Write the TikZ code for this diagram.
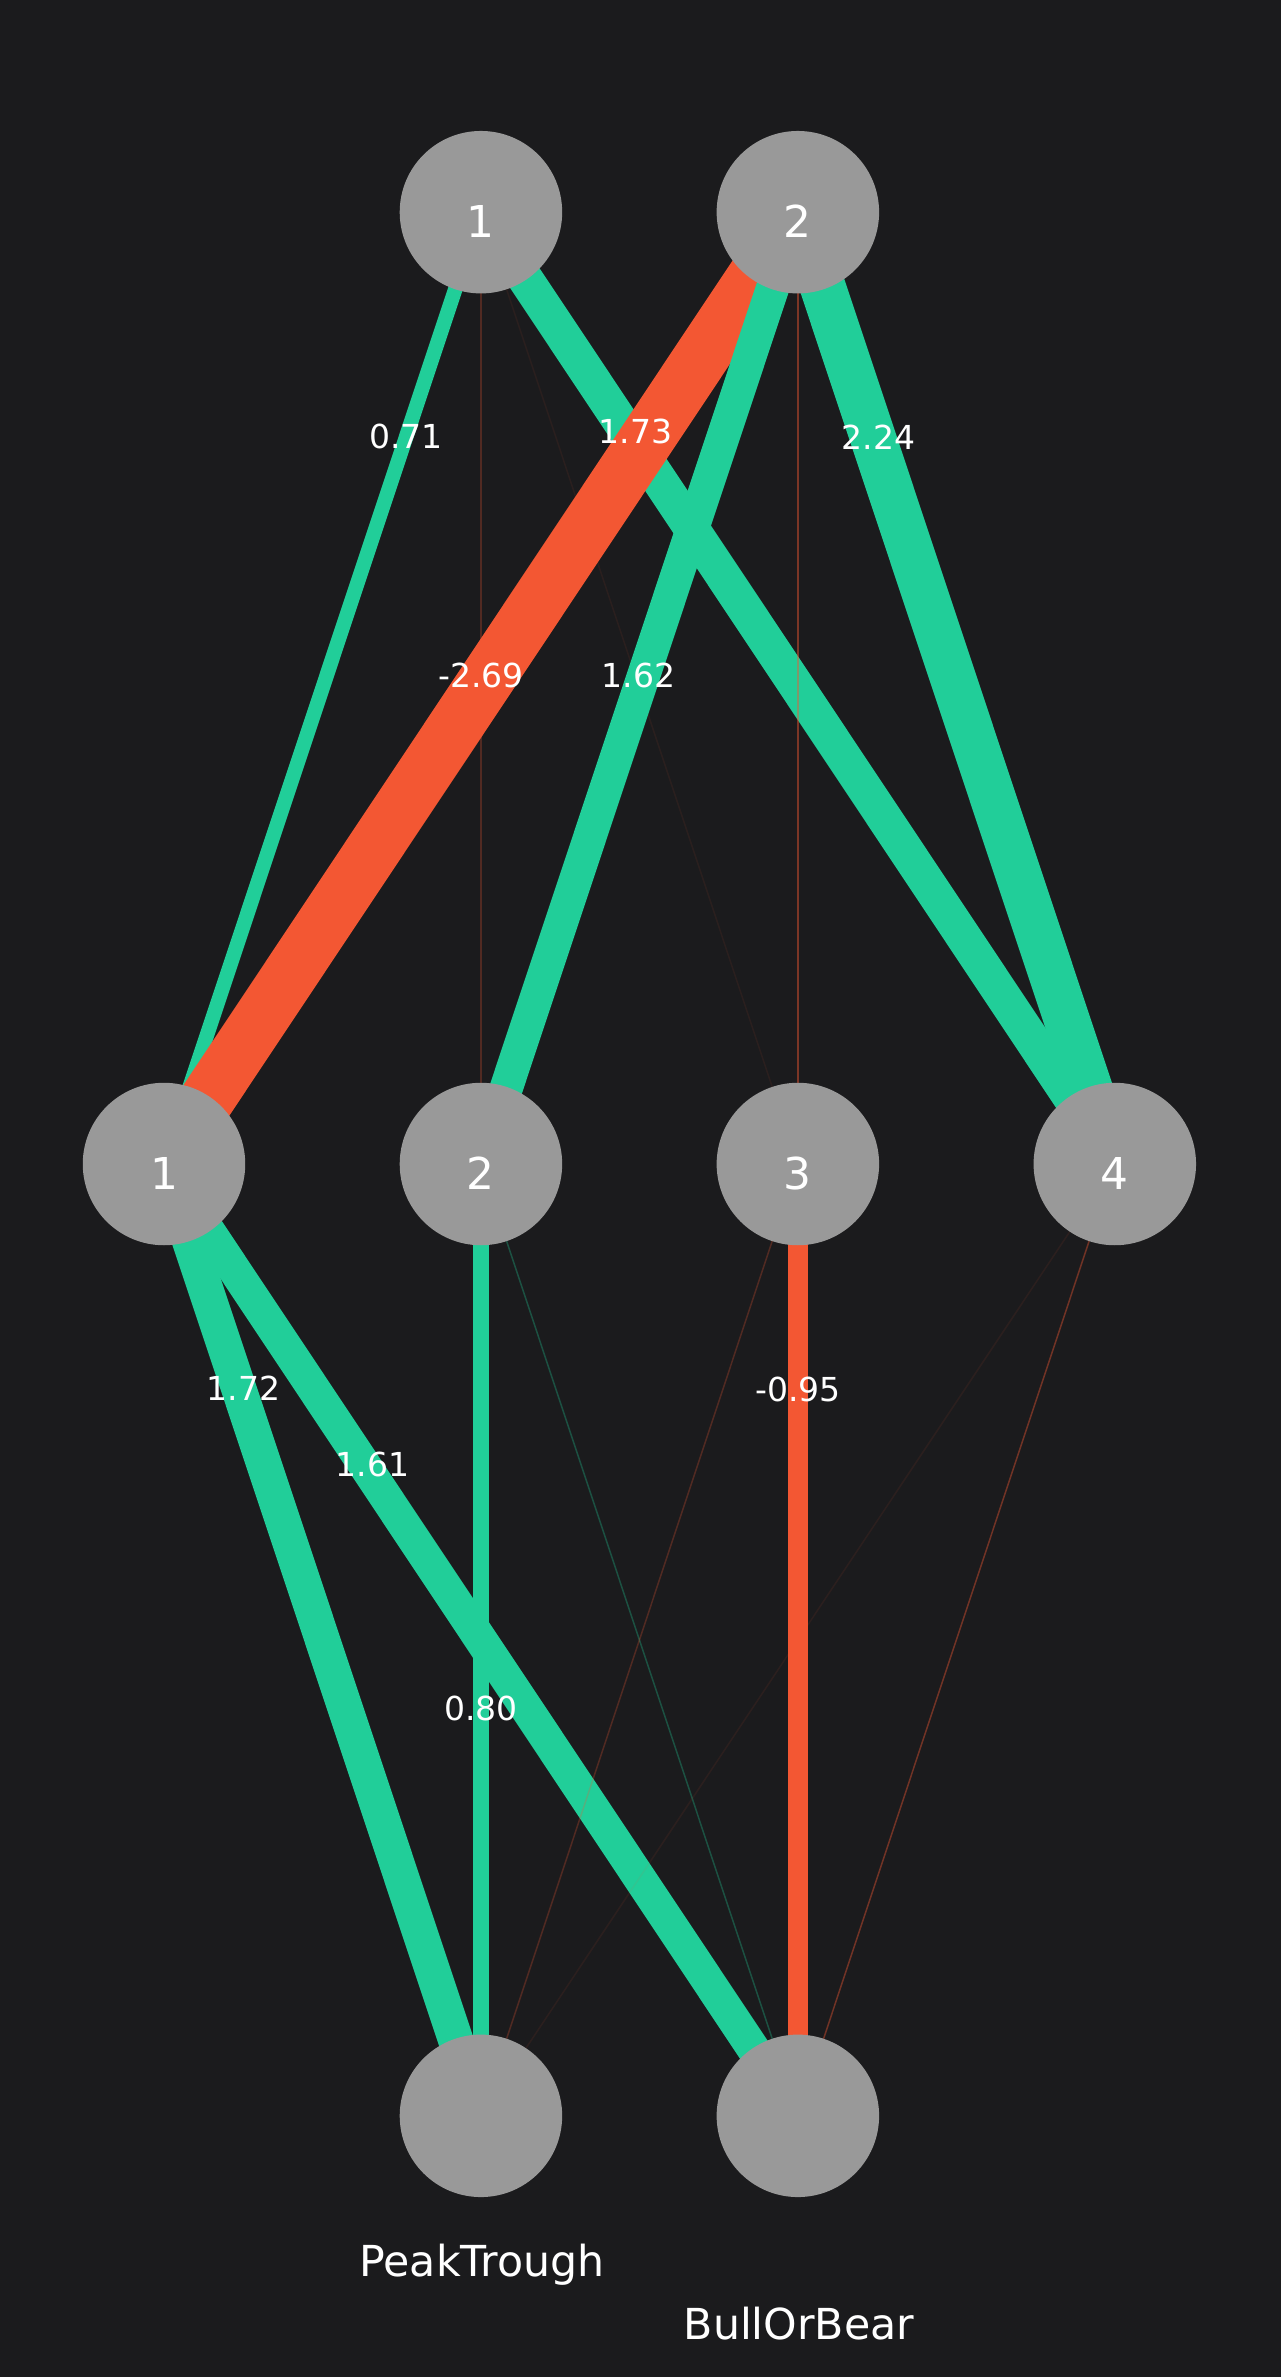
\documentclass[tikz,border=0pt]{standalone}
\usepackage{fontspec}
\setmainfont{DejaVu Sans}
\usetikzlibrary{positioning}
\definecolor{bgdark}{HTML}{1B1B1D}
\definecolor{posgreen}{HTML}{21CE99}
\definecolor{negorange}{HTML}{F35733}
\definecolor{neurongray}{HTML}{999999}
\pgfdeclarelayer{canvas}
\pgfdeclarelayer{edges}
\pgfsetlayers{canvas,edges,main}
\tikzset{%
	neuron/.style   = {circle, fill=neurongray, minimum size=3.25cm, inner sep=0pt}, % unit
	numbered/.style = {neuron, label={[text=white, yshift=-0.19cm, font=\fontsize{25}{30}\selectfont]center:#1}},
	wlabel/.style   = {text=white, inner sep=0pt, font=\fontsize{18.8}{22}\selectfont}, % weight
	outlabel/.style = {text=white, inner sep=0pt, anchor=base, font=\fontsize{24.3}{28}\selectfont},
	poswt/.style    = {draw=posgreen, line width=#1*0.41cm},
	negwt/.style    = {draw=negorange, line width=#1*0.41cm},
	faintpos/.style = {draw=posgreen, draw opacity=#1, line width=0.03cm}, % near zero
	faintneg/.style = {draw=negorange, draw opacity=#1, line width=0.03cm},
}

\begin{document}
\begin{tikzpicture}[x=0.02cm,y=-0.02cm,node distance=6.34cm]
	\begin{pgfonlayer}{canvas}
	\fill[bgdark] (0,0) rectangle (1281,2377);
	\end{pgfonlayer}
	\useasboundingbox (0,0) rectangle (1281,2377);

	\node [numbered=1] (hid1) at (164,1164) {};
	\node [numbered=2] (hid2) [right of=hid1] {};
	\node [numbered=3] (hid3) [right of=hid2] {};
	\node [numbered=4] (hid4) [right of=hid3] {};
	\node [numbered=1] (in1) [above of=hid2,node distance=19.04cm] {};
	\node [numbered=2] (in2) [above of=hid3,node distance=19.04cm] {};
	\node [neuron] (outpt) [below of=hid2,node distance=19.04cm] {};
	\node [neuron] (outbb) [below of=hid3,node distance=19.04cm] {};

	\begin{pgfonlayer}{edges}
	% input layer to hidden layer
	\draw[poswt=0.71] (in1.center) -- (hid1.center);
	\draw[faintneg=0.25] (in1.center) -- (hid2.center);
	\draw[faintneg=0.07] (in1.center) -- (hid3.center);
	\draw[poswt=1.73] (in1.center) -- (hid4.center);
	\draw[negwt=2.69] (in2.center) -- (hid1.center);
	\draw[poswt=1.62] (in2.center) -- (hid2.center);
	\draw[faintneg=0.45] (in2.center) -- (hid3.center);
	\draw[poswt=2.24] (in2.center) -- (hid4.center);
	% hidden layer to outputs
	\draw[poswt=1.72] (hid1.center) -- (outpt.center);
	\draw[poswt=1.61] (hid1.center) -- (outbb.center);
	\draw[poswt=0.80] (hid2.center) -- (outpt.center);
	\draw[faintpos=0.3] (hid2.center) -- (outbb.center);
	\draw[faintneg=0.25] (hid3.center) -- (outpt.center);
	\draw[negwt=0.95] (hid3.center) -- (outbb.center);
	\draw[faintneg=0.08] (hid4.center) -- (outpt.center);
	\draw[faintneg=0.4] (hid4.center) -- (outbb.center);
	\end{pgfonlayer}

	\path (in1.center) -- node[wlabel,pos=0.236] {0.71} (hid1.center);
	\path (in1.center) -- node[wlabel,pos=0.230,xshift=0.18cm] {1.73} (hid4.center);
	\path (in2.center) -- node[wlabel,pos=0.236,xshift=0.12cm] {2.24} (hid4.center);
	\path (in2.center) -- node[wlabel,pos=0.487,xshift=-0.16cm] {-2.69} (hid1.center);
	\path (in2.center) -- node[wlabel,pos=0.487,xshift=-0.1cm] {1.62} (hid2.center);
	\path (hid1.center) -- node[wlabel,pos=0.236,xshift=0.09cm] {1.72} (outpt.center);
	\path (hid1.center) -- node[wlabel,pos=0.316,xshift=0.16cm] {1.61} (outbb.center);
	\path (hid2.center) -- node[wlabel,pos=0.572] {0.80} (outpt.center);
	\path (hid3.center) -- node[wlabel,pos=0.237] {-0.95} (outbb.center);

	\node [outlabel] (ptname) at (482,2276) {PeakTrough};
	\node [outlabel] (bbname) at (799,2339) {BullOrBear};
\end{tikzpicture}
\end{document}
